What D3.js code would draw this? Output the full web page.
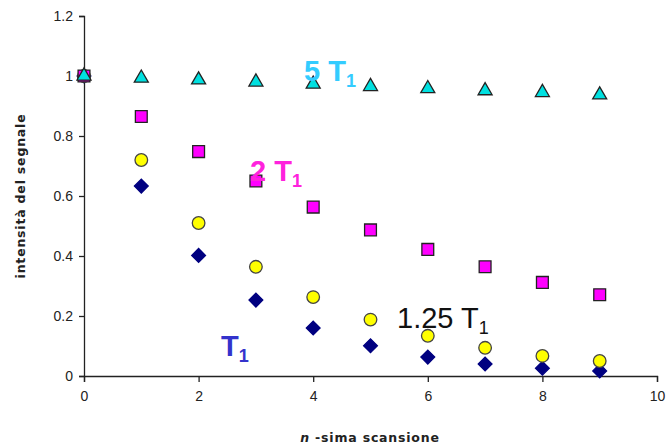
<!DOCTYPE html>
<html>
<head>
<meta charset="utf-8">
<script src="https://cdn.jsdelivr.net/npm/d3@7"></script>
<style>
  body { margin: 0; background: #fff; }
  svg { display: block; }
</style>
</head>
<body>
<svg id="chart" width="667" height="447"></svg>
<script>
// scan index
const scans = [0, 1, 2, 3, 4, 5, 6, 7, 8, 9];
// signal intensity for each repetition time
const t1Values   = [1, 0.633, 0.402, 0.253, 0.160, 0.101, 0.063, 0.040, 0.026, 0.017];
const t125Values = [1, 0.720, 0.510, 0.364, 0.263, 0.188, 0.134, 0.094, 0.067, 0.050];
const t2Values   = [1, 0.865, 0.748, 0.650, 0.563, 0.487, 0.422, 0.364, 0.312, 0.271];
const t5Values   = [1, 0.993, 0.987, 0.980, 0.973, 0.965, 0.958, 0.951, 0.945, 0.937];
const xTicks = [0, 2, 4, 6, 8, 10];
const yTicks = [0, 0.2, 0.4, 0.6, 0.8, 1, 1.2];

const svg = d3.select("#chart");
const x = d3.scaleLinear().domain([0, 10]).range([84, 657]);
const y = d3.scaleLinear().domain([0, 1.2]).range([376, 16]);

// axes
const xAxis = svg.append("g").attr("transform", `translate(0,${y(0)})`)
  .call(d3.axisBottom(x).tickValues(xTicks).tickSize(6).tickPadding(9).tickFormat(d3.format("d")));
const yAxis = svg.append("g").attr("transform", `translate(${x(0)},0)`)
  .call(d3.axisLeft(y).tickValues(yTicks).tickSize(5).tickPadding(6).tickFormat(d => d3.format("")(+d.toFixed(1))));
[xAxis, yAxis].forEach(g => {
  g.select(".domain").attr("stroke", "#222").attr("stroke-width", 1.3);
  g.selectAll(".tick line").attr("stroke", "#222").attr("stroke-width", 1.3);
  g.selectAll(".tick text").attr("fill", "#222").style("font-family", "Liberation Sans, Arial, sans-serif").style("font-size", "14px");
});

// axis titles
svg.append("text")
  .attr("transform", `translate(25,${y(0.6)}) rotate(-90)`)
  .attr("text-anchor", "middle")
  .style("font-family", "DejaVu Sans, sans-serif").style("font-size", "12.5px").style("font-weight", "bold")
  .style("letter-spacing", "0.8px")
  .attr("fill", "#222")
  .text("intensità del segnale");
const xt = svg.append("text")
  .attr("x", 370).attr("y", 442)
  .attr("text-anchor", "middle")
  .style("font-family", "DejaVu Sans, sans-serif").style("font-size", "12.5px").style("font-weight", "bold")
  .style("letter-spacing", "0.8px")
  .attr("fill", "#222");
xt.append("tspan").style("font-style", "italic").text("n");
xt.append("tspan").text(" -sima scansione");

// series markers
const series = [
  { values: t1Values,   type: d3.symbolSquare,   size: 95,  rotate: 45, fill: "#000080", stroke: "#000080" },
  { values: t125Values, type: d3.symbolCircle,   size: 125, rotate: 0,  fill: "#ffff00", stroke: "#444" },
  { values: t2Values,   type: d3.symbolSquare,   size: 140, rotate: 0,  fill: "#ff00ff", stroke: "#222" },
  { values: t5Values,   type: d3.symbolTriangle, size: 85,  rotate: 0,  fill: "#00e0e0", stroke: "#222" }
];
series.forEach(s => {
  svg.append("g").selectAll("path")
    .data(scans.map((n, i) => [n, s.values[i]]))
    .join("path")
    .attr("transform", d => `translate(${x(d[0])},${y(d[1])}) rotate(${s.rotate})`)
    .attr("d", d3.symbol().type(s.type).size(s.size))
    .attr("fill", s.fill)
    .attr("stroke", s.stroke)
    .attr("stroke-width", 1.3);
});

// series labels
const labels = [
  { main: "5 T", x: 304, y: 81,  color: "#33ccff", weight: "bold" },
  { main: "2 T", x: 250, y: 181, color: "#ff22dd", weight: "bold" },
  { main: "1.25 T", x: 397, y: 328, color: "#111", weight: "normal" },
  { main: "T", x: 221, y: 356, color: "#3333cc", weight: "bold" }
];
labels.forEach(l => {
  const t = svg.append("text").attr("x", l.x).attr("y", l.y)
    .style("font-family", "Liberation Sans, Arial, sans-serif")
    .style("font-size", "29px").style("font-weight", l.weight)
    .attr("fill", l.color);
  t.append("tspan").text(l.main);
  t.append("tspan").attr("dy", 6).style("font-size", "18px").text("1");
});
</script>
</body>
</html>
